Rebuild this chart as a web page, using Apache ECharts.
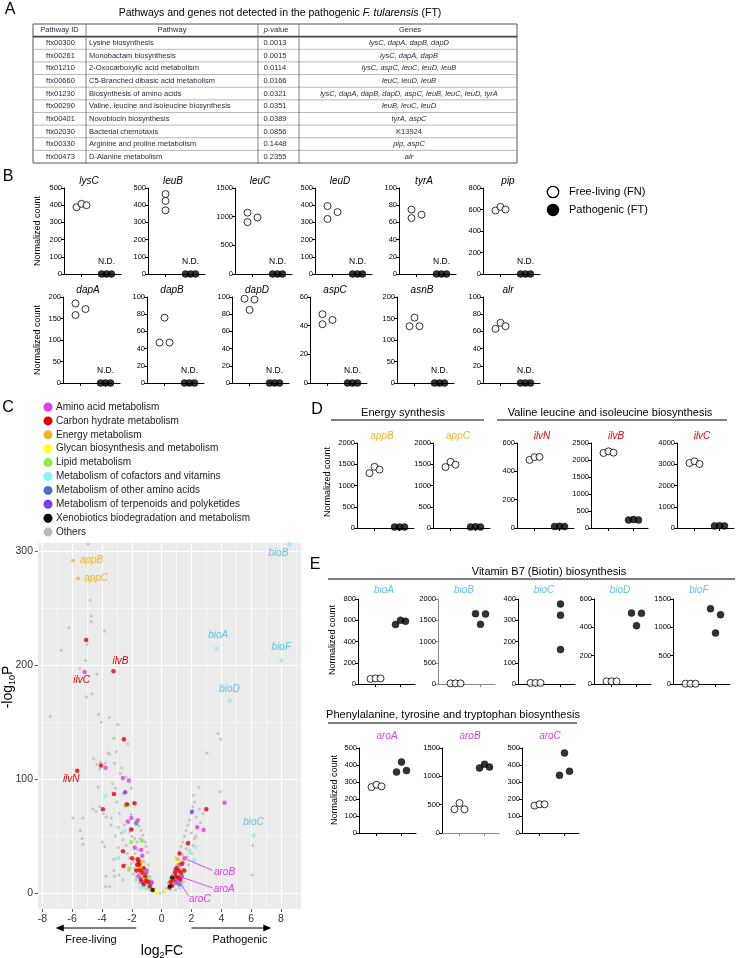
<!DOCTYPE html>
<html><head><meta charset="utf-8">
<script src="https://cdn.jsdelivr.net/npm/echarts@6/dist/echarts.min.js"></script>
<style>html,body{margin:0;padding:0;background:#fff}#c{width:738px;height:958px}</style>
</head><body><div id="c"></div>
<script>
// ================= DATA =================
// Panel A table
const tableIds = ['ftx00300','ftx00261','ftx01210','ftx00660','ftx01230','ftx00290','ftx00401','ftx02030','ftx00330','ftx00473'];
const tablePathways = ['Lysine biosynthesis','Monobactam biosynthesis','2-Oxocarboxylic acid metabolism','C5-Branched dibasic acid metabolism','Biosynthesis of amino acids','Valine, leucine and isoleucine biosynthesis','Novobiocin biosynthesis','Bacterial chemotaxis','Arginine and proline metabolism','D-Alanine metabolism'];
const tablePValues = ['0.0013','0.0015','0.0114','0.0166','0.0321','0.0351','0.0389','0.0856','0.1448','0.2355'];
const tableGenes = ['lysC, dapA, dapB, dapD','lysC, dapA, dapB','lysC, aspC, leuC, leuD, leuB','leuC, leuD, leuB','lysC, dapA, dapB, dapD, aspC, leuB, leuC, leuD, tyrA','leuB, leuC, leuD','tyrA, aspC','K13924','pip, aspC','alr'];

// Panel B (normalized counts; FN = free-living, FT = pathogenic)
const bGenes = ['lysC','leuB','leuC','leuD','tyrA','pip','dapA','dapB','dapD','aspC','asnB','alr'];
const bFreeLiving = [[388,408,400],[465,425,370],[1070,905,985],[395,320,360],[75,65,69],[590,624,600],
                     [185,158,172],[76,47,47],[98,97,85],[48,41,44],[152,132,132],[63,70,66]];
const bPathogenic = [[0,0,0],[0,0,0],[0,0,0],[0,0,0],[0,0,0],[0,0,0],[0,0,0],[0,0,0],[0,0,0],[0,0,0],[0,0,0],[0,0,0]];
const bYMax = [500,500,1500,500,100,800,200,100,100,60,200,100];
const bYStep = [100,100,500,100,20,200,50,20,20,20,50,20];

// Panel D
const dGenes = ['appB','appC','ilvN','ilvB','ilvC'];
const dFreeLiving = [[1290,1440,1375],[1433,1555,1490],[481,500,502],[2206,2255,2216],[3059,3137,3012]];
const dPathogenic = [[22,26,22],[25,28,25],[10,12,10],[235,250,235],[100,110,100]];
const dYMax = [2000,2000,600,2500,4000];
const dYStep = [500,500,200,500,1000];

// Panel E (biotin)
const eGenes = ['bioA','bioB','bioC','bioD','bioF'];
const eFreeLiving = [[48,52,52],[15,15,15],[5,5,5],[19,19,19],[5,5,5]];
const ePathogenic = [[560,600,590],[1655,1404,1647],[376,324,162],[501,499,412],[1329,1224,900]];
const eYMax = [800,2000,400,600,1500];
const eYStep = [200,500,100,200,500];

// Panel E (aromatic)
const fGenes = ['aroA','aroB','aroC'];
const fFreeLiving = [[270,284,274],[418,529,418],[161,169,169]];
const fPathogenic = [[359,418,367],[1147,1212,1165],[339,471,363]];
const fYMax = [500,1500,500];
const fYStep = [100,500,100];

// Panel C volcano: [log2FC, -log10P]
const volcCategories = ['Amino acid metabolism','Carbon hydrate metabolism','Energy metabolism','Glycan biosynthesis and metabolism','Lipid metabolism','Metabolism of cofactors and vitamins','Metabolism of other amino acids','Metabolism of terpenoids and polyketides','Xenobiotics biodegradation and metabolism','Others'];
const volcOthers = [[-4.94,306],[-4.79,257],[-4.72,243],[-4.72,238],[-6.22,233],[-3.83,230],[-6.73,213],[-5.01,218],[-5.1,204],[-5.5,197],[-4.35,192],[-5.05,172],[-4.68,175],[-7.47,155],[-4.23,157],[-4.05,150],[-3.5,154],[-2.94,148],[-3.2,136],[-2.56,135],[-2.27,131],[-3.6,123],[-3.49,122],[-3.05,124],[-4.56,118],[-4.09,115],[-3.8,114],[-4.35,113],[-3.16,114],[-4.16,109],[-2.67,110],[-2.78,105],[-2.38,102],[-4.25,93],[-3.09,92],[-2.56,87],[-2.04,92],[-4.61,74],[-4.16,76],[-4.39,72],[-3.9,70],[-3.72,67],[-3.38,66],[-2.83,70],[-2.04,69],[-5.95,66],[-5.28,66],[-5.46,55],[-5.33,48],[-5.28,43],[-3.99,45],[-3.83,41],[-3.72,15],[-3.76,6],[-3.49,6],[-3.16,15],[-3.2,20],[-2.87,16],[-2.6,12],[-2.9,58],[-2.7,53],[-2.6,47],[-2.38,42],[-2.31,35],[-2.16,31],[-2.04,26],[-1.82,22],[-1.93,17],[-1.71,12],[-1.49,9],[-1.26,6],[-1.04,4],[-0.81,3],[-0.59,1.5],[-0.37,0.6],[-0.14,0.1],[-1.71,63],[-1.53,59],[-1.37,55],[-1.26,51],[-1.44,48],[-1.1,45],[-1.04,41],[-0.93,36],[-1.6,38],[-1.86,41],[-1.66,45],[-1.98,50],[-2.16,54],[-1.8,35],[-1.5,30],[-1.2,28],[-0.9,25],[-1.6,25],[-1.3,20],[-1.0,18],[-0.8,15],[-0.6,10],[-1.4,14],[-1.1,12],[-0.95,8],[-0.7,6],[-0.5,4],[-1.9,28],[-2.2,20],[-2.4,25],[-1.55,17],[-1.75,30],[-2.5,60],[-2.2,62],[-1.95,56],[-1.8,48],[-3.2,30],[-2.9,40],[-3.1,50],[-3.4,60],[-3.0,80],[-3.3,96],[3.77,140],[3.95,135],[3.03,123],[3.93,89],[2.49,93],[2.13,86],[2.2,80],[2.09,76],[1.98,70],[2.54,74],[2.76,70],[2.31,67],[1.87,64],[1.76,60],[1.64,55],[1.98,53],[2.2,48],[1.53,50],[1.42,45],[1.87,45],[1.31,41],[1.64,39],[1.2,36],[1.42,34],[0.97,31],[1.08,26],[0.86,22],[0.7,17],[0.57,13],[0.41,9],[0.26,4],[0.12,1.5],[6.11,42],[6.07,16],[0.9,15],[1.1,18],[1.3,22],[1.5,27],[1.7,32],[1.9,38],[1.0,8],[0.8,6],[0.6,3],[1.25,12],[1.6,20],[1.8,25],[2.0,35],[2.1,42],[2.3,50],[2.4,58],[2.6,62],[1.2,5],[0.95,3],[1.45,10]];
const volcAminoAcid = [[-5.17,194],[-3.76,110],[-2.6,101],[-2.2,99],[-2.04,66],[-2.27,63],[-1.6,64],[4.21,79.5],[2.38,58],[2.81,55.5],[-1.37,38],[1.53,30.7],[1.31,14.6],[1.08,13],[-1.3,33],[-1.0,20],[-0.7,10],[0.9,20],[1.2,25],[0.5,5],[-1.8,40],[-1.55,15],[1.0,9]];
const volcCarbon = [[-5.06,222],[-3.23,194.6],[-5.66,107.5],[-2.53,135],[-4.07,112],[-3.2,87],[-2.34,78],[-1.82,79],[-3.94,73.6],[-2.04,56],[-2.6,37],[-2.56,24],[-1.98,30.7],[2.99,73.6],[1.76,44],[1.2,35],[1.37,26],[-1.6,30],[-1.5,25],[-1.3,18],[-1.1,15],[-0.9,10],[-1.4,12],[-1.7,20],[-1.2,22],[0.6,10],[0.8,12],[0.9,18],[1.0,22],[1.1,14],[1.3,18],[0.7,7],[1.5,20],[-0.8,6],[-1.55,28],[-1.2,8],[-1.45,20],[-1.05,11],[1.15,20],[1.25,12],[0.95,15],[-1.65,25]];
const volcEnergy = [[-5.95,291.6],[-5.6,276],[-1.5,22],[-1.2,15],[0.7,10],[1.1,30],[-0.9,12],[1.4,28],[-1.35,28]];
const volcGlycan = [[-1.6,20],[-1.1,10],[-0.5,2],[0.6,6],[1.0,28],[-1.3,25],[1.2,20],[-0.3,1],[0.3,2]];
const volcLipid = [[-2.43,76.8],[-2.22,77.4],[-2.04,45],[-1.31,46],[-2.16,22],[1.05,24],[-1.0,14]];
const volcCofactors = [[8.57,306],[3.66,214.4],[8.02,204],[4.55,169],[6.16,51],[-3.76,85.3],[-2.49,54.6],[-2.91,31],[2.27,40.3],[1.87,36.5],[2.18,29],[-1.2,26],[-1.4,5],[-0.8,12],[0.8,8],[1.35,6],[-1.7,15],[-1.15,6]];
const volcOtherAmino = [[-1.71,61.4],[-0.7,8.8],[0.97,10],[1.2,8],[-1.05,18],[1.35,15]];
const volcTerpenoid = [[-2.45,88.5],[2.03,71.6],[-1.3,10]];
const volcXenobiotic = [[0.55,6],[0.7,14],[-0.6,3]];
const volcXTicks = [-8,-6,-4,-2,0,2,4,6,8];
const volcXMinor = [-7,-5,-3,-1,1,3,5,7,9];
const volcYTicks = [0,100,200,300];
const volcYMinor = [50,150,250];
const labelGenes = ['appB','appC','ilvB','ilvC','ilvN','bioB','bioA','bioF','bioD','bioC','aroB','aroA','aroC'];
const labelFC = [-5.95,-5.6,-3.23,-5.17,-5.66,8.57,3.66,8.02,4.55,6.16,1.53,1.31,1.08];
const labelP = [291.6,276,194.6,194,107.5,306,214.4,204,169,51,30.7,14.6,13];

// ================= STYLE / LAYOUT =================
const FONT = '"Liberation Sans", Arial, Helvetica, sans-serif';
const COL = {amino:'#e23fe6', carbon:'#e60000', energy:'#f0b428', glycan:'#ffff33', lipid:'#88ee44',
             cofactor:'#88f2f8', otherAmino:'#4a72c4', terpenoid:'#7a3cf0', xeno:'#000000', others:'#bbbbbb'};
const catColors = [COL.amino, COL.carbon, COL.energy, COL.glycan, COL.lipid, COL.cofactor, COL.otherAmino, COL.terpenoid, COL.xeno, COL.others];
const LBL = {energy:'#f0b428', ilv:'#e60000', bio:'#5ec4ee', aro:'#e23fe6'};

const AX_LEN = 57, FN_PX = 17.5, FT_PX = 42.5, UNIT = 25, SLOT = 0.2;
const X_MIN = -FN_PX/UNIT, X_MAX = (AX_LEN-FN_PX)/UNIT;
const STD = [-1,0,1];
const bFnSlots = [[-1,0,1],[0,0,0],[-1,-1,1],[-1,-1,1],[-1,-1,1],[-1,0,1],[-1,-1,1],[0,-1,1],[-1,1,0],[-1,-1,1],[0,-1,1],[-1,0,1]];
const eFtSlots = [[-1,0,1],[-1,0,1],[0,0,0],[-1,1,0],[-1,1,0]];
const plainNum = v => String(v);

const grids=[], xAxes=[], yAxes=[], series=[], gfx=[];

function T(x, y, text, o) {
  o = o || {};
  return {type:'text', x:x, y:y, z:o.z||20, rotation:o.rot||0, silent:true,
    style:{text:text, fill:o.color||'#000', fontSize:o.size||10, fontFamily:FONT,
      fontStyle:o.italic?'italic':'normal', fontWeight:o.weight||'normal',
      align:o.align||'center', verticalAlign:o.va||'middle', rich:o.rich}};
}
function L(x1,y1,x2,y2,color,w){
  return {type:'line', z:15, silent:true, shape:{x1:x1,y1:y1,x2:x2,y2:y2}, style:{stroke:color||'#000', lineWidth:w||1}};
}

function addDotPanel(p) {
  const gi = grids.length;
  const ac = p.axisColor || '#000', xc = p.xAxisColor || ac;
  grids.push({left:p.left, top:p.top, width:AX_LEN, height:p.height, containLabel:false, outerBoundsMode:'none'});
  xAxes.push({gridIndex:gi, type:'value', min:X_MIN, max:X_MAX,
    axisLine:{show:true, onZero:false, lineStyle:{color:xc, width:1}},
    axisTick:{show:true, customValues:[0,1], length:3, lineStyle:{color:xc, width:1}},
    axisLabel:{show:false}, splitLine:{show:false}});
  yAxes.push({gridIndex:gi, type:'value', min:0, max:p.yMax, interval:p.yStep,
    axisLine:{show:true, onZero:false, lineStyle:{color:ac, width:1}},
    axisTick:{show:true, length:3, lineStyle:{color:ac, width:1}},
    axisLabel:{fontSize:7.5, margin:2, color:'#000', fontFamily:FONT, formatter:plainNum}, splitLine:{show:false}});
  series.push({type:'scatter', xAxisIndex:gi, yAxisIndex:gi, clip:false, silent:true, z:5,
    data:p.fn.map((v,i)=>[p.fnSlots[i]*SLOT, v]), symbol:'circle', symbolSize:7,
    itemStyle:{color:'#fff', borderColor:'#000', borderWidth:1}});
  series.push({type:'scatter', xAxisIndex:gi, yAxisIndex:gi, clip:false, silent:true, z:6,
    data:p.ft.map((v,i)=>[1+p.ftSlots[i]*SLOT, v]), symbol:'circle', symbolSize:7,
    itemStyle:{color:'#000', borderColor:'#000', borderWidth:0.5}});
  gfx.push(T(p.left+p.titleDx, p.top+p.titleDy, p.title, {italic:true, size:10, color:p.titleColor||'#000'}));
  if (p.nd) gfx.push(T(p.left+FT_PX, p.top+p.height-12, 'N.D.', {size:8.5}));
}

// Panel B
const B_ROWS = [{top:188, height:86, lefts:[64,148,235,315,399,483]},{top:297, height:86, lefts:[63,147,232,310,397,483]}];
bGenes.forEach((g,i)=>{
  const row = B_ROWS[Math.floor(i/6)], left = row.lefts[i%6];
  addDotPanel({left:left, top:row.top, height:row.height, yMax:bYMax[i], yStep:bYStep[i],
    fn:bFreeLiving[i], ft:bPathogenic[i], fnSlots:bFnSlots[i], ftSlots:STD,
    title:g, titleDx:25, titleDy:-7, nd:true});
});
// Panel D
const D_LEFTS = [357,433,517,591,677];
dGenes.forEach((g,i)=>{
  addDotPanel({left:D_LEFTS[i], top:443, height:85, yMax:dYMax[i], yStep:dYStep[i],
    fn:dFreeLiving[i], ft:dPathogenic[i], fnSlots:STD, ftSlots:STD,
    title:g, titleDx:25, titleDy:-7, titleColor: i<2?LBL.energy:LBL.ilv});
});
// Panel E biotin
const E_LEFTS = [358,438,518,594,673];
eGenes.forEach((g,i)=>{
  addDotPanel({left:E_LEFTS[i], top:599, height:85, yMax:eYMax[i], yStep:eYStep[i],
    fn:eFreeLiving[i], ft:ePathogenic[i], fnSlots:STD, ftSlots:eFtSlots[i],
    title:g, titleDx:26, titleDy:-9, titleColor:LBL.bio, axisColor: i===1?'#8a8a8a':null});
});
// Panel E aromatic
const F_LEFTS = [359,442,522];
fGenes.forEach((g,i)=>{
  addDotPanel({left:F_LEFTS[i], top:748, height:85, yMax:fYMax[i], yStep:fYStep[i],
    fn:fFreeLiving[i], ft:fPathogenic[i], fnSlots:STD, ftSlots:STD,
    title:g, titleDx:28, titleDy:-12, titleColor:LBL.aro, xAxisColor: i===1?'#8a8a8a':null});
});

// Volcano
const VG = grids.length;
grids.push({left:38, top:543, width:263, height:366, containLabel:false, outerBoundsMode:'none', show:true, backgroundColor:'#ebebeb', borderWidth:0});
xAxes.push({gridIndex:VG, type:'value', min:-8.29, max:9.34, position:'bottom',
  axisLine:{show:false, onZero:false}, axisTick:{show:true, customValues:volcXTicks, length:3, lineStyle:{color:'#333', width:0.8}},
  axisLabel:{show:true, customValues:volcXTicks, fontSize:10.5, color:'#333', margin:5, fontFamily:FONT},
  splitLine:{show:true, lineStyle:{color:'#ffffff', width:1.1}}});
xAxes.push({gridIndex:VG, type:'value', min:-8.29, max:9.34, position:'top',
  axisLine:{show:false, onZero:false}, axisTick:{show:true, customValues:volcXMinor, length:0, lineStyle:{color:'rgba(0,0,0,0)'}},
  axisLabel:{show:false, customValues:volcXMinor},
  splitLine:{show:true, lineStyle:{color:'#ffffff', width:0.5}}});
yAxes.push({gridIndex:VG, type:'value', min:-13.7, max:307, position:'left',
  axisLine:{show:false, onZero:false}, axisTick:{show:true, customValues:volcYTicks, length:3, lineStyle:{color:'#333', width:0.8}},
  axisLabel:{show:true, customValues:volcYTicks, fontSize:10.5, color:'#333', margin:5, fontFamily:FONT},
  splitLine:{show:true, lineStyle:{color:'#ffffff', width:1.1}}});
yAxes.push({gridIndex:VG, type:'value', min:-13.7, max:307, position:'right',
  axisLine:{show:false, onZero:false}, axisTick:{show:true, customValues:volcYMinor, length:0, lineStyle:{color:'rgba(0,0,0,0)'}},
  axisLabel:{show:false, customValues:volcYMinor},
  splitLine:{show:true, lineStyle:{color:'#ffffff', width:0.5}}});
const VX = xAxes.length-2, VY = yAxes.length-2;
function volc(data, color, size, z){
  series.push({type:'scatter', xAxisIndex:VX, yAxisIndex:VY, data:data, symbol:'circle', symbolSize:size,
    itemStyle:{color:color, borderWidth:0}, silent:true, z:z});
}
volc(volcOthers, COL.others, 3, 2);
volc(volcCofactors, COL.cofactor, 4.5, 3);
volc(volcGlycan, COL.glycan, 4.5, 3);
volc(volcLipid, COL.lipid, 4.5, 3);
volc(volcEnergy, COL.energy, 3.8, 3);
volc(volcOtherAmino, COL.otherAmino, 4.5, 3);
volc(volcTerpenoid, COL.terpenoid, 4.5, 3);
volc(volcAminoAcid, COL.amino, 4.5, 4);
volc(volcCarbon, COL.carbon, 4.5, 4);
volc(volcXenobiotic, COL.xeno, 4.5, 4);

// ================= STATIC GRAPHICS =================
gfx.push(T(10,10,'A',{size:16}), T(8,177,'B',{size:16}), T(8,408,'C',{size:16}), T(317,410,'D',{size:16}), T(315,565,'E',{size:16}));

gfx.push(T(280,13,'{n|Pathways and genes not detected in the pathogenic }{i|F. tularensis}{n| (FT)}',{size:10.5,
  rich:{n:{fontSize:10.5, fontFamily:FONT, fill:'#000'}, i:{fontSize:10.5, fontFamily:FONT, fontStyle:'italic', fill:'#000'}}}));
(function(){
  const TX=[33,86,258,299,517], TY=24, RH=12.64, n=tableIds.length+1, tc='#2b2b38', fs=7.5;
  gfx.push({type:'rect', z:12, silent:true, shape:{x:TX[0], y:TY, width:TX[4]-TX[0], height:RH*n}, style:{fill:'#fff', stroke:'#555', lineWidth:1}});
  for (let r=1;r<n;r++) gfx.push(L(TX[0], TY+r*RH, TX[4], TY+r*RH, r===1?'#444':'#999', r===1?1.6:0.7));
  for (let c=1;c<4;c++) gfx.push(L(TX[c], TY, TX[c], TY+RH*n, '#666', 0.8));
  const cy0 = TY + RH/2;
  gfx.push(T((TX[0]+TX[1])/2, cy0, 'Pathway ID', {size:fs, color:tc}));
  gfx.push(T((TX[1]+TX[2])/2, cy0, 'Pathway', {size:fs, color:tc}));
  gfx.push(T(276, cy0, '{i|p}-value', {size:fs, color:tc, rich:{i:{fontStyle:'italic', fontSize:fs, fontFamily:FONT, fill:tc}}}));
  gfx.push(T(410, cy0, 'Genes', {size:fs, color:tc}));
  tableIds.forEach((id,i)=>{
    const cy = TY + RH*(i+1) + RH/2;
    gfx.push(T((TX[0]+TX[1])/2+1, cy, id, {size:fs, color:tc}));
    gfx.push(T(TX[1]+3, cy, tablePathways[i], {size:fs, color:tc, align:'left'}));
    gfx.push(T(275, cy, tablePValues[i], {size:fs, color:tc}));
    gfx.push(T(409, cy, tableGenes[i], {size:fs, color:tc, italic: !/^K\d+$/.test(tableGenes[i])}));
  });
})();

gfx.push({type:'circle', z:20, silent:true, shape:{cx:553, cy:192, r:5.7}, style:{fill:'#fff', stroke:'#000', lineWidth:1.3}});
gfx.push({type:'circle', z:20, silent:true, shape:{cx:553, cy:210, r:6.2}, style:{fill:'#000'}});
gfx.push(T(569,192,'Free-living (FN)',{size:11, align:'left'}), T(569,210,'Pathogenic (FT)',{size:11, align:'left'}));
[[38,231],[38,340],[328,482],[333,640],[335,790]].forEach(p=>gfx.push(T(p[0],p[1],'Normalized count',{size:9, rot:Math.PI/2})));

volcCategories.forEach((c,i)=>{
  const y = 407 + i*13.9;
  gfx.push({type:'circle', z:20, silent:true, shape:{cx:48, cy:y, r:4.5}, style:{fill:catColors[i]}});
  gfx.push(T(56, y, c, {size:10, align:'left', color:'#222'}));
});

gfx.push(T(403,413,'Energy synthesis',{size:11}), L(331,420,484,420,'#000',1.2));
gfx.push(T(610,413,'Valine leucine and isoleucine biosynthesis',{size:11}), L(497,420,727,420,'#000',1.2));
gfx.push(T(549,572,'Vitamin B7 (Biotin) biosynthesis',{size:11}), L(328,579,735,579,'#000',1.2));
gfx.push(T(453,715,'Phenylalanine, tyrosine and tryptophan biosynthesis',{size:11}), L(328,723,577,723,'#000',1.2));

gfx.push(T(8,687,'-log{s|10}P',{size:14, rot:Math.PI/2,
  rich:{s:{fontSize:9, fontFamily:FONT, fill:'#000', verticalAlign:'bottom', lineHeight:18}}}));
gfx.push(T(162,951,'log{s|2}FC',{size:14,
  rich:{s:{fontSize:9, fontFamily:FONT, fill:'#000', verticalAlign:'bottom', lineHeight:18}}}));

const chart = echarts.init(document.getElementById('c'), null, {renderer:'canvas', width:738, height:958});
chart.setOption({
  animation:false, backgroundColor:'#ffffff',
  textStyle:{fontFamily:FONT},
  grid:grids, xAxis:xAxes, yAxis:yAxes, series:series
});

const px = (x,y)=>chart.convertToPixel({xAxisIndex:VX, yAxisIndex:VY}, [x,y]);
(function(){
  const ay = 928;
  const a1 = px(-1.7,0)[0], a2 = px(-7.1,0)[0], b1 = px(2.0,0)[0], b2 = px(7.35,0)[0];
  gfx.push(L(a1,ay,a2+6,ay,'#000',1), {type:'polygon', z:15, silent:true, shape:{points:[[a2,ay],[a2+8,ay-3.5],[a2+8,ay+3.5]]}, style:{fill:'#000'}});
  gfx.push(L(b1,ay,b2-6,ay,'#000',1), {type:'polygon', z:15, silent:true, shape:{points:[[b2,ay],[b2-8,ay-3.5],[b2-8,ay+3.5]]}, style:{fill:'#000'}});
  gfx.push(T(91,940,'Free-living',{size:11}), T(240,940,'Pathogenic',{size:11}));
})();
const labelLayout = {
  appB:{dx:7,dy:0,align:'left',c:LBL.energy}, appC:{dx:6,dy:0,align:'left',c:LBL.energy},
  ilvB:{dx:7,dy:-10,c:LBL.ilv}, ilvC:{dx:-3,dy:8,c:LBL.ilv}, ilvN:{dx:-6,dy:9,c:LBL.ilv},
  bioB:{dx:-11,dy:9,c:LBL.bio}, bioA:{dx:2,dy:-13,c:LBL.bio}, bioF:{dx:0,dy:-13,c:LBL.bio},
  bioD:{dx:0,dy:-11,c:LBL.bio}, bioC:{dx:0,dy:-13,c:LBL.bio},
  aroB:{dx:40,dy:14,c:LBL.aro,line:[2,1,28,12]}, aroA:{dx:43,dy:13,c:LBL.aro,line:[2,1,31,11]},
  aroC:{dx:22,dy:21,c:LBL.aro,line:[1,2,11,18]}
};
labelGenes.forEach((g,i)=>{
  const p = px(labelFC[i], labelP[i]), lo = labelLayout[g];
  if (lo.line) gfx.push(L(p[0]+lo.line[0], p[1]+lo.line[1], p[0]+lo.line[2], p[1]+lo.line[3], lo.c, 0.9));
  gfx.push(T(p[0]+lo.dx, p[1]+lo.dy, g, {size:10, italic:true, color:lo.c, align:lo.align||'center'}));
});

chart.setOption({graphic:{elements:gfx}});
</script></body></html>
